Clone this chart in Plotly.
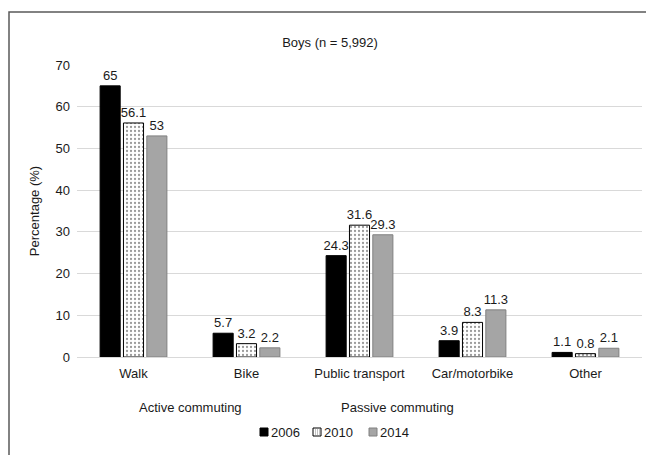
import plotly.graph_objects as go

categories = ["Walk", "Bike", "Public transport", "Car/motorbike", "Other"]
years = ["2006", "2010", "2014"]
v2006 = [65, 5.7, 24.3, 3.9, 1.1]
v2010 = [56.1, 3.2, 31.6, 8.3, 0.8]
v2014 = [53, 2.2, 29.3, 11.3, 2.1]
y_ticks = [0, 10, 20, 30, 40, 50, 60, 70]

FONT = "Liberation Sans, Arial, sans-serif"
OFF = 8  # page body margin
W, H = 654 - OFF, 455 - OFF
PL, PR, PT, PB = 77 - OFF, 642 - OFF, 65 - OFF, 357 - OFF  # plot area in figure pixels
PW, PH = PR - PL, PB - PT


def px(x):
    return (x - OFF - PL) / PW


def py(y):
    return (PB - (y - OFF)) / PH


styles = [
    dict(color="black", line=dict(color="black", width=1)),
    dict(color="white", line=dict(color="black", width=1),
         pattern=dict(shape=".", fgcolor="#333333", bgcolor="white",
                      size=4, solidity=0.25)),
    dict(color="#a5a5a5", line=dict(color="#808080", width=1)),
]

fig = go.Figure()
for name, vals, mk in zip(years, [v2006, v2010, v2014], styles):
    fig.add_bar(
        x=categories, y=vals, name=name, marker=mk,
        text=[f"{v:g}" for v in vals], textposition="outside",
        textfont=dict(size=13, color="#1a1a1a"), cliponaxis=False,
        showlegend=False,
    )

fig.update_layout(
    width=W, height=H,
    margin=dict(l=PL, r=W - PR, t=PT, b=H - PB, autoexpand=False),
    paper_bgcolor="white", plot_bgcolor="white",
    font=dict(family=FONT, size=13, color="#1a1a1a"),
    barmode="group", bargap=0.38, bargroupgap=0.14,
    uniformtext=dict(minsize=13, mode="show"),
    title=dict(text="Boys (n = 5,992)", x=px(330), xanchor="center",
               xref="paper", y=1 - (42 - OFF) / H, yanchor="middle",
               font=dict(size=13, color="#1a1a1a")),
    showlegend=False,
    xaxis=dict(showline=True, linecolor="#d9d9d9", linewidth=1,
               ticks="", tickfont=dict(size=13), automargin=False,
               ticklabelstandoff=4),
    yaxis=dict(range=[0, 70], tickvals=y_ticks, showgrid=True,
               gridcolor="#d9d9d9", gridwidth=1, zeroline=False,
               ticks="", tickfont=dict(size=13), automargin=False,
               ticklabelstandoff=6,
               title=dict(text="Percentage (%)", font=dict(size=13), standoff=12)),
)

fig.add_annotation(text="Active commuting", xref="paper", yref="paper",
                   x=px(190), y=py(407), showarrow=False,
                   font=dict(size=13), xanchor="center", yanchor="middle")
fig.add_annotation(text="Passive commuting", xref="paper", yref="paper",
                   x=px(397), y=py(407), showarrow=False,
                   font=dict(size=13), xanchor="center", yanchor="middle")

# legend drawn as small swatches + labels
leg_y = 432
swatch_x = [260, 313, 369]
for name, sx, mk in zip(years, swatch_x, styles):
    fig.add_shape(type="rect", xref="paper", yref="paper",
                  x0=px(sx), x1=px(sx + 8), y0=py(leg_y + 4), y1=py(leg_y - 4),
                  fillcolor=mk["color"], line=dict(color=mk["line"]["color"], width=1))
    fig.add_annotation(text=name, xref="paper", yref="paper",
                       x=px(sx + 9), y=py(leg_y), showarrow=False,
                       font=dict(size=13), xanchor="left", yanchor="middle")
# dots inside the 2010 swatch
for dx in (2, 4, 6):
    for dy in (-2, 0, 2):
        fig.add_shape(type="rect", xref="paper", yref="paper",
                      x0=px(313 + dx), x1=px(313 + dx + 0.8),
                      y0=py(leg_y + dy + 0.4), y1=py(leg_y + dy - 0.4),
                      fillcolor="#666666", line=dict(width=0))

# outer frame
fig.add_shape(type="rect", xref="paper", yref="paper",
              x0=px(9), x1=px(700), y0=py(500), y1=py(12),
              line=dict(color="#595959", width=1.5), layer="below")

fig.write_html("out.html")
